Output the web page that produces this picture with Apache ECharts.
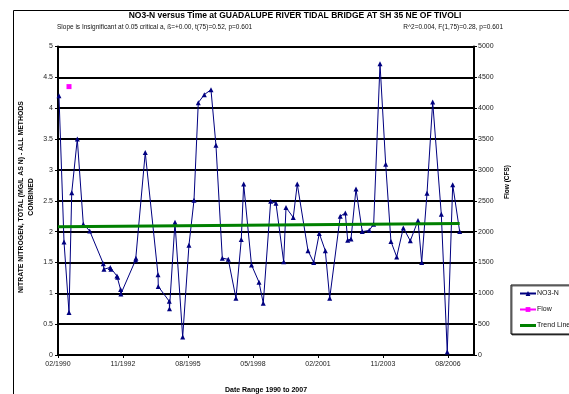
<!DOCTYPE html>
<html><head><meta charset="utf-8">
<script src="https://cdn.jsdelivr.net/npm/echarts@6/dist/echarts.min.js"></script>
<style>html,body{margin:0;padding:0;background:#fff}#c{width:569px;height:394px}</style>
</head><body><div id="c"></div>
<script>
// ---- data ----
const no3Dates = ['1990-02-16','1990-05-05','1990-07-21','1990-09-01','1990-11-26','1991-02-27','1991-06-06',
'1992-01-02','1992-01-12','1992-04-18','1992-04-29','1992-07-30','1992-08-10','1992-09-25','1992-09-29',
'1993-05-15','1993-05-20','1993-10-11','1994-04-26','1994-04-30','1994-10-17','1994-10-20','1995-01-13',
'1995-05-12','1995-08-17','1995-11-03','1996-01-08','1996-04-10','1996-07-22','1996-10-07','1997-01-13',
'1997-04-15','1997-08-12','1997-11-02','1997-12-09','1998-04-09','1998-08-03','1998-10-08','1999-01-30',
'1999-04-22','1999-08-19','1999-09-24','2000-01-14','2000-03-16','2000-08-29','2000-11-25','2001-02-19',
'2001-05-23','2001-07-30','2002-01-09','2002-03-28','2002-05-04','2002-06-24','2002-09-09','2002-12-15',
'2003-04-02','2003-06-09','2003-09-15','2003-12-12','2004-03-02','2004-05-30','2004-09-09','2004-12-26',
'2005-04-24','2005-06-20','2005-09-10','2005-12-07','2006-04-19','2006-07-20','2006-10-12','2007-01-28'];
const no3Values = [4.20,1.83,0.69,2.63,3.50,2.12,2.01,
1.48,1.39,1.42,1.39,1.28,1.26,1.06,0.99,
1.54,1.57,3.28,1.30,1.11,0.87,0.75,2.15,
0.29,1.78,2.51,4.09,4.22,4.30,3.40,1.57,
1.55,0.92,1.87,2.77,1.46,1.18,0.84,2.49,
2.46,1.51,2.39,2.23,2.77,1.69,1.50,1.97,
1.69,0.92,2.25,2.30,1.86,1.88,2.69,2.00,
2.02,2.12,4.72,3.09,1.84,1.59,2.06,1.85,
2.18,1.50,2.62,4.10,2.28,0.05,2.76,2.00];
const flowDates = ['1990-07-21'];
const flowValues = [4350];
const trendDates = ['1990-02-01','2007-01-28'];
const trendValues = [2.08, 2.13];
const xTickLabels = ['02/1990','11/1992','08/1995','05/1998','02/2001','11/2003','08/2006'];
const leftTicks = [0,0.5,1,1.5,2,2.5,3,3.5,4,4.5,5];
const rightTicks = [0,500,1000,1500,2000,2500,3000,3500,4000,4500,5000];

const DAY = 86400000;
const xMin = Date.UTC(1990,1,1);
const xInterval = 1004*DAY;
const xMax = xMin + 6426*DAY;
const t = s => Date.parse(s);
const pairs = (ds, vs) => ds.map((d,i)=>[t(d), vs[i]]);

const FF = 'Liberation Sans, Arial, sans-serif';
const chart = echarts.init(document.getElementById('c'), null, {renderer:'canvas'});
chart.setOption({
  animation:false,
  backgroundColor:'#fff',
  textStyle:{fontFamily:FF},
  title:[
    {text:'NO3-N versus Time at GUADALUPE RIVER TIDAL BRIDGE AT SH 35 NE OF TIVOLI',left:295,top:11,textAlign:'center',padding:0,
     textStyle:{fontSize:8.5,fontWeight:'bold',color:'#000',fontFamily:FF}},
    {text:'Slope is Insignificant at 0.05 critical a, \u00DF=+0.00, t(75)=0.52, p=0.601',left:57,top:24,padding:0,
     textStyle:{fontSize:6.5,fontWeight:'normal',color:'#111',fontFamily:FF}},
    {text:'R^2=0.004, F(1,75)=0.28, p=0.601',left:503,top:24,textAlign:'right',padding:0,
     textStyle:{fontSize:6.5,fontWeight:'normal',color:'#111',fontFamily:FF}}
  ],
  grid:{left:58,right:95,top:46.5,bottom:39,containLabel:false,outerBoundsMode:'none'},
  legend:{
    orient:'vertical',left:511,top:285,padding:[5,30,5,8],itemGap:9,itemWidth:16,itemHeight:6,
    borderColor:'#000',borderWidth:1,backgroundColor:'#fff',
    shadowColor:'rgba(0,0,0,0.6)',shadowOffsetX:1,shadowOffsetY:1,shadowBlur:0,
    textStyle:{fontSize:7,color:'#111',fontFamily:FF,padding:[0,0,0,-4]},
    data:['NO3-N','Flow',{name:'Trend Line',icon:'path://M0,0H16V3H0Z'}]
  },
  xAxis:{
    type:'value',min:xMin,max:xMax,interval:xInterval,
    axisLine:{show:true,onZero:false,lineStyle:{color:'#000',width:2}},
    axisTick:{show:true,length:3,lineStyle:{color:'#000',width:1}},
    axisLabel:{fontSize:7,color:'#222',margin:6,showMaxLabel:false,fontFamily:FF,
      formatter:v=>{const i=Math.round((v-xMin)/xInterval);return xTickLabels[i]||'';}},
    splitLine:{show:false}
  },
  yAxis:[
    {type:'value',min:0,max:5,interval:0.5,position:'left',
     axisLine:{show:true,lineStyle:{color:'#000',width:2}},
     axisTick:{show:true,length:3,lineStyle:{color:'#000',width:1}},
     axisLabel:{fontSize:7,color:'#222',margin:5,fontFamily:FF,formatter:v=>String(leftTicks[Math.round(v/0.5)])},
     splitLine:{show:true,lineStyle:{color:'#000',width:2}}},
    {type:'value',min:0,max:5000,interval:500,position:'right',
     axisLine:{show:true,lineStyle:{color:'#000',width:2}},
     axisTick:{show:true,length:3,lineStyle:{color:'#000',width:1}},
     axisLabel:{fontSize:7,color:'#222',margin:4,fontFamily:FF,formatter:v=>String(rightTicks[Math.round(v/500)])},
     splitLine:{show:false}}
  ],
  graphic:[
    {type:'rect',shape:{x:13.5,y:10.5,width:620,height:420},style:{fill:null,stroke:'#000',lineWidth:1},silent:true,z:-10},
    {type:'text',x:16.5,y:197,rotation:Math.PI/2,
     style:{text:'NITRATE NITROGEN, TOTAL (MG/L AS N) - ALL METHODS\nCOMBINED',font:'bold 6.9px '+FF,fill:'#000',
       textAlign:'center',textVerticalAlign:'top',lineHeight:9.5}},
    {type:'text',x:507,y:182,rotation:Math.PI/2,
     style:{text:'Flow (CFS)',font:'bold 6.5px '+FF,fill:'#000',textAlign:'center',textVerticalAlign:'middle'}},
    {type:'text',x:266,y:390,
     style:{text:'Date Range 1990 to 2007',font:'bold 7px '+FF,fill:'#000',textAlign:'center',textVerticalAlign:'middle'}}
  ],
  series:[
    {name:'NO3-N',type:'line',yAxisIndex:0,data:pairs(no3Dates,no3Values),
     symbol:'triangle',symbolSize:5,showAllSymbol:true,
     lineStyle:{color:'#000080',width:1},itemStyle:{color:'#000080'},z:3},
    {name:'Flow',type:'line',yAxisIndex:1,data:pairs(flowDates,flowValues),
     symbol:'rect',symbolSize:5,lineStyle:{color:'#FF00FF',width:1},itemStyle:{color:'#FF00FF'},z:3},
    {name:'Trend Line',type:'line',yAxisIndex:0,data:pairs(trendDates,trendValues),
     symbol:'none',lineStyle:{color:'#008000',width:3},itemStyle:{color:'#008000'},z:4}
  ]
});
</script></body></html>
